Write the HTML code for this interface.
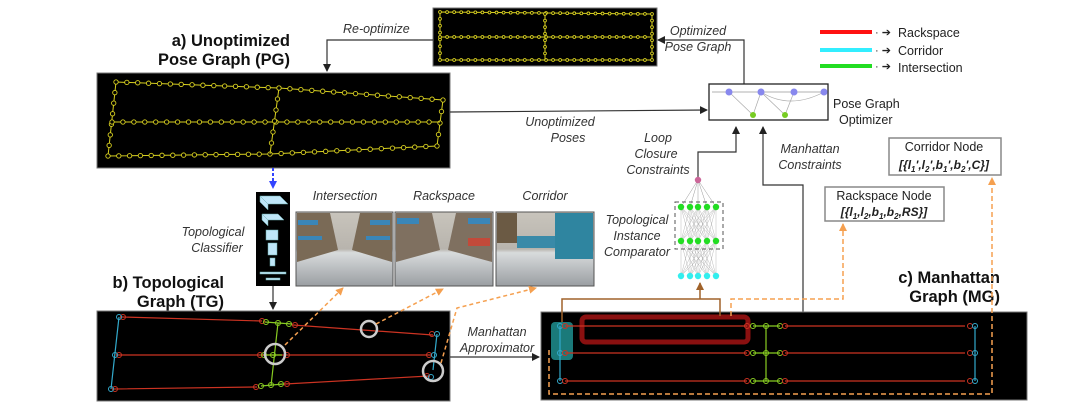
<!DOCTYPE html>
<html><head><meta charset="utf-8">
<style>
html,body{margin:0;padding:0;background:#fff;}
svg{display:block;font-family:"Liberation Sans",sans-serif;}
.it{font-style:italic;font-size:12.5px;fill:#333;}
.t{font-size:12.5px;fill:#222;}
.b{font-weight:bold;font-size:16.5px;fill:#111;}
</style></head><body>
<svg id="s" width="1080" height="413" viewBox="0 0 1080 413" xmlns="http://www.w3.org/2000/svg">
<defs>
<marker id="ak" markerWidth="8" markerHeight="8" refX="7" refY="4" orient="auto" markerUnits="userSpaceOnUse"><path d="M0,0 L8,4 L0,8 z" fill="#222"/></marker>
<marker id="ao" markerWidth="8" markerHeight="8" refX="7" refY="4" orient="auto" markerUnits="userSpaceOnUse"><path d="M0,0 L8,4 L0,8 z" fill="#f5a050"/></marker>
<marker id="ab" markerWidth="8" markerHeight="8" refX="7" refY="4" orient="auto" markerUnits="userSpaceOnUse"><path d="M0,0 L8,4 L0,8 z" fill="#a0622a"/></marker>
<marker id="abl" markerWidth="8" markerHeight="8" refX="7" refY="4" orient="auto" markerUnits="userSpaceOnUse"><path d="M0,0 L8,4 L0,8 z" fill="#3344ff"/></marker>
<linearGradient id="img" x1="0" y1="0" x2="0" y2="1"><stop offset="0" stop-color="#c8c4bc"/><stop offset="0.5" stop-color="#b8b4ad"/><stop offset="0.55" stop-color="#d8dbdc"/><stop offset="1" stop-color="#9a9ea2"/></linearGradient>
</defs>

<text class="b" x="290" y="46" text-anchor="end">a) Unoptimized</text>
<text class="b" x="290" y="65" text-anchor="end">Pose Graph (PG)</text>
<text class="b" x="224" y="288" text-anchor="end">b) Topological</text>
<text class="b" x="224" y="307" text-anchor="end">Graph (TG)</text>
<text class="b" x="1000" y="283" text-anchor="end">c) Manhattan</text>
<text class="b" x="1000" y="302" text-anchor="end">Graph (MG)</text>

<rect x="433" y="8" width="224" height="58" fill="#000" stroke="#777"/>
<g id="pgsmall"></g>
<rect x="97" y="73" width="353" height="95" fill="#000" stroke="#777"/>
<g id="pgbig"></g>

<path d="M433,40 H327 V71" fill="none" stroke="#333" stroke-width="1.2" marker-end="url(#ak)"/>
<text class="it" x="343" y="33">Re-optimize</text>
<path d="M744,84 V40 H658" fill="none" stroke="#333" stroke-width="1.2" marker-end="url(#ak)"/>
<text class="it" x="698" y="35" text-anchor="middle">Optimized</text>
<text class="it" x="698" y="51" text-anchor="middle">Pose Graph</text>
<path d="M450,112 L707,110" fill="none" stroke="#333" stroke-width="1.2" marker-end="url(#ak)"/>
<text class="it" x="560" y="126" text-anchor="middle">Unoptimized</text>
<text class="it" x="568" y="142" text-anchor="middle">Poses</text>

<rect x="709" y="84" width="119" height="36" fill="#fff" stroke="#222" stroke-width="1.3"/>
<line x1="712" y1="92" x2="825" y2="92" stroke="#999" stroke-width="0.7"/>
<g stroke="#aaa" stroke-width="0.7" fill="none"><path d="M729,92 L753,115 L761,92 M761,92 L785,115 L794,92 M761,92 Q790,110 824,92"/></g>
<g fill="#8888ee"><circle cx="729" cy="92" r="3.5"/><circle cx="761" cy="92" r="3.5"/><circle cx="794" cy="92" r="3.5"/><circle cx="824" cy="92" r="3.5"/></g>
<g fill="#77cc22"><circle cx="753" cy="115" r="3"/><circle cx="785" cy="115" r="3"/></g>
<text class="t" x="833" y="108">Pose Graph</text>
<text class="t" x="839" y="124">Optimizer</text>

<line x1="820" y1="32" x2="872" y2="32" stroke="#ff1111" stroke-width="4"/>
<line x1="820" y1="50" x2="872" y2="50" stroke="#33eeff" stroke-width="4"/>
<line x1="820" y1="66" x2="872" y2="66" stroke="#22dd22" stroke-width="4"/>
<g font-size="11" fill="#222"><text x="875" y="36">· ➔</text><text x="875" y="54">· ➔</text><text x="875" y="70">· ➔</text></g>
<text class="t" x="898" y="37">Rackspace</text>
<text class="t" x="898" y="55">Corridor</text>
<text class="t" x="898" y="72">Intersection</text>

<path d="M698,180 V152 H736 V127" fill="none" stroke="#333" stroke-width="1.2" marker-end="url(#ak)"/>
<text class="it" x="658" y="142" text-anchor="middle">Loop</text>
<text class="it" x="656" y="158" text-anchor="middle">Closure</text>
<text class="it" x="658" y="174" text-anchor="middle">Constraints</text>
<path d="M803,312 V185 H763 V127" fill="none" stroke="#333" stroke-width="1.2" marker-end="url(#ak)"/>
<text class="it" x="810" y="153" text-anchor="middle">Manhattan</text>
<text class="it" x="810" y="169" text-anchor="middle">Constraints</text>

<rect x="889" y="138" width="112" height="37" fill="#fff" stroke="#888" stroke-width="1.5"/>
<text class="t" x="944" y="151" text-anchor="middle">Corridor Node</text>
<text x="944" y="169" text-anchor="middle" font-size="12" font-weight="bold" font-style="italic" fill="#222">[{l<tspan font-size="8" dy="3">1</tspan><tspan dy="-3">',l</tspan><tspan font-size="8" dy="3">2</tspan><tspan dy="-3">',b</tspan><tspan font-size="8" dy="3">1</tspan><tspan dy="-3">',b</tspan><tspan font-size="8" dy="3">2</tspan><tspan dy="-3">',C}]</tspan></text>
<rect x="825" y="187" width="119" height="34" fill="#fff" stroke="#888" stroke-width="1.5"/>
<text class="t" x="884" y="200" text-anchor="middle">Rackspace Node</text>
<text x="884" y="216" text-anchor="middle" font-size="12" font-weight="bold" font-style="italic" fill="#222">[{l<tspan font-size="8" dy="3">1</tspan><tspan dy="-3">,l</tspan><tspan font-size="8" dy="3">2</tspan><tspan dy="-3">,b</tspan><tspan font-size="8" dy="3">1</tspan><tspan dy="-3">,b</tspan><tspan font-size="8" dy="3">2</tspan><tspan dy="-3">,RS}]</tspan></text>

<g id="nn"></g>
<rect x="675" y="202" width="48" height="47" fill="none" stroke="#555" stroke-dasharray="4,3"/>
<text class="it" x="637" y="224" text-anchor="middle">Topological</text>
<text class="it" x="637" y="240" text-anchor="middle">Instance</text>
<text class="it" x="637" y="256" text-anchor="middle">Comparator</text>

<rect x="256" y="192" width="34" height="94" fill="#000"/>
<g fill="#bfe6f8" stroke="#6aa" stroke-width="0.5">
<polygon points="260,196 280,196 288,204 268,204"/><polygon points="260,196 268,204 268,210 260,202"/>
<polygon points="262,214 278,214 284,220 268,220"/><polygon points="262,214 268,220 268,226 262,220"/>
<rect x="266" y="230" width="12" height="10"/><rect x="268" y="243" width="9" height="12"/>
<rect x="270" y="258" width="5" height="8"/><rect x="260" y="272" width="26" height="2"/><rect x="266" y="278" width="14" height="2"/>
</g>
<path d="M273,168 V188" stroke="#3344ff" stroke-width="2" stroke-dasharray="3,2" fill="none" marker-end="url(#abl)"/>
<path d="M273,286 V309" stroke="#333" stroke-width="1.2" fill="none" marker-end="url(#ak)"/>
<text class="it" x="213" y="236" text-anchor="middle">Topological</text>
<text class="it" x="217" y="252" text-anchor="middle">Classifier</text>

<g stroke="#555" stroke-width="1">
<rect x="296" y="212" width="97" height="74" fill="url(#img)"/>
<rect x="395" y="212" width="98" height="74" fill="url(#img)"/>
<rect x="496" y="212" width="98" height="74" fill="url(#img)"/>
</g>
<g>
<polygon points="297,213 330,213 338,250 297,262" fill="#7a6a56"/><polygon points="392,213 360,213 352,250 392,262" fill="#7a6a56"/>
<rect x="298" y="220" width="20" height="5" fill="#3a86b8"/><rect x="370" y="220" width="20" height="5" fill="#3a86b8"/>
<rect x="298" y="236" width="24" height="4" fill="#3a86b8"/><rect x="366" y="236" width="24" height="4" fill="#3a86b8"/>
<polygon points="396,213 432,213 440,250 396,262" fill="#7f7060"/><polygon points="492,213 456,213 448,250 492,262" fill="#7f7060"/>
<rect x="397" y="218" width="22" height="6" fill="#3a86b8"/><rect x="468" y="218" width="22" height="6" fill="#3a86b8"/>
<rect x="468" y="238" width="22" height="8" fill="#c24a3a"/>
<rect x="497" y="213" width="20" height="30" fill="#6b5a44"/><rect x="555" y="213" width="38" height="46" fill="#2f85a0"/><rect x="517" y="236" width="38" height="12" fill="#3a8aa8"/>
</g>
<text class="it" x="345" y="200" text-anchor="middle">Intersection</text>
<text class="it" x="444" y="200" text-anchor="middle">Rackspace</text>
<text class="it" x="545" y="200" text-anchor="middle">Corridor</text>

<rect x="97" y="311" width="353" height="90" fill="#000" stroke="#777"/>
<g fill="none" stroke-width="1.2">
<path d="M122,317 L262,321 M293,325 L433,335 M118,355 L432,355 M114,389 L257,387 M285,384 L429,376" stroke="#cc3322"/>
<path d="M119,317 L111,389 M437,334 L433,370" stroke="#33aacc"/>
<path d="M265,322 L292,324 M278,323 L271,386 M262,355 L282,355 M261,386 L283,384" stroke="#88cc22"/>
</g>
<g fill="none" stroke-width="1" stroke="#cc3322">
<circle cx="123" cy="317" r="2.5"/><circle cx="119" cy="355" r="2.5"/><circle cx="115" cy="389" r="2.5"/><circle cx="262" cy="321" r="2.5"/><circle cx="295" cy="325" r="2.5"/><circle cx="260" cy="355" r="2.5"/><circle cx="287" cy="355" r="2.5"/><circle cx="256" cy="387" r="2.5"/><circle cx="287" cy="384" r="2.5"/><circle cx="432" cy="334" r="2.5"/><circle cx="429" cy="355" r="2.5"/><circle cx="427" cy="376" r="2.5"/></g>
<g fill="none" stroke-width="1" stroke="#33aacc"><circle cx="119" cy="317" r="2.5"/><circle cx="115" cy="355" r="2.5"/><circle cx="111" cy="389" r="2.5"/><circle cx="437" cy="334" r="2.5"/><circle cx="434" cy="355" r="2.5"/><circle cx="431" cy="377" r="2.5"/></g>
<g fill="none" stroke-width="1" stroke="#88cc22"><circle cx="266" cy="322" r="2.5"/><circle cx="278" cy="323" r="2.5"/><circle cx="289" cy="324" r="2.5"/><circle cx="264" cy="355" r="2.5"/><circle cx="273" cy="355" r="2.5"/><circle cx="261" cy="386" r="2.5"/><circle cx="271" cy="385" r="2.5"/><circle cx="281" cy="384" r="2.5"/></g>
<g fill="none" stroke="#ccc" stroke-width="2.5"><circle cx="275" cy="354" r="10"/><circle cx="369" cy="329" r="8"/><circle cx="433" cy="371" r="10"/></g>
<g fill="none" stroke="#f5a050" stroke-width="1.5" stroke-dasharray="4,3">
<path d="M285,345 L343,288" marker-end="url(#ao)"/>
<path d="M376,324 L443,289" marker-end="url(#ao)"/>
<path d="M441,363 L457,308 L536,288" marker-end="url(#ao)"/>
</g>

<path d="M450,357 L539,357" stroke="#333" stroke-width="1.2" fill="none" marker-end="url(#ak)"/>
<text class="it" x="497" y="336" text-anchor="middle">Manhattan</text>
<text class="it" x="497" y="352" text-anchor="middle">Approximator</text>

<rect x="541" y="312" width="486" height="88" fill="#000" stroke="#777"/>
<rect x="551" y="322" width="22" height="38" rx="4" fill="#1f8f8f" opacity="0.85"/>
<rect x="582" y="317" width="166" height="25" rx="4" fill="none" stroke="#8a1010" stroke-width="5"/>
<g fill="none" stroke-width="1.2">
<path d="M565,326 L747,326 M785,326 L965,326 M565,353 L747,353 M785,353 L965,353 M565,381 L747,381 M785,381 L965,381" stroke="#cc3322"/>
<path d="M560,326 V381 M975,326 V381" stroke="#33aacc"/>
<path d="M753,326 H780 M753,353 H780 M753,381 H780 M766,326 V381" stroke="#88cc22"/>
</g>
<g id="mgn"></g>
<g fill="none" stroke="#f5a050" stroke-width="1.5" stroke-dasharray="5,3">
<path d="M549,350 V394 H992 V312 V178" marker-end="url(#ao)"/>
<path d="M731,316 V299 H843 V224" marker-end="url(#ao)"/>
</g>
<g fill="none" stroke="#a0622a" stroke-width="1.5">
<path d="M562,322 V299 H720 V316"/>
<path d="M700,299 V283" marker-end="url(#ab)"/>
</g>
</svg>
<script>
var NS="http://www.w3.org/2000/svg";
function el(p,t,a){var e=document.createElementNS(NS,t);for(var k in a)e.setAttribute(k,a[k]);p.appendChild(e);return e;}
function chain(g,pts,n,col,r){
 var d="M"+pts.map(function(p){return p.join(",")}).join(" L");
 el(g,"path",{d:d,fill:"none",stroke:col,"stroke-width":1});
 for(var i=0;i<pts.length-1;i++){var a=pts[i],b=pts[i+1];var L=Math.hypot(b[0]-a[0],b[1]-a[1]);var m=Math.max(1,Math.round(L/n));
  for(var j=0;j<m;j++){var t=j/m;el(g,"circle",{cx:a[0]+(b[0]-a[0])*t,cy:a[1]+(b[1]-a[1])*t,r:r,fill:"#000",stroke:col,"stroke-width":0.9});}}
}
var Y="#d8d020";
var gb=document.getElementById("pgbig");
chain(gb,[[116,82],[279,88],[443,100],[437,146],[270,154],[108,156],[116,82]],11,Y,2.2);
chain(gb,[[112,122],[440,122]],11,Y,2.2);
chain(gb,[[279,88],[270,154]],11,Y,2.2);
var gs=document.getElementById("pgsmall");
chain(gs,[[440,12],[652,14],[652,60],[440,60],[440,12]],7,Y,1.4);
chain(gs,[[440,37],[652,37]],7,Y,1.4);
chain(gs,[[545,14],[545,60]],7,Y,1.4);
var nn=document.getElementById("nn");var xs=[681,690,698,707,716];
xs.forEach(function(x){el(nn,"line",{x1:698,y1:180,x2:x,y2:207,stroke:"#999","stroke-width":0.5});
 xs.forEach(function(x2){el(nn,"line",{x1:x,y1:207,x2:x2,y2:241,stroke:"#aaa","stroke-width":0.4});el(nn,"line",{x1:x,y1:241,x2:x2,y2:276,stroke:"#aaa","stroke-width":0.4});});});
xs.forEach(function(x){el(nn,"circle",{cx:x,cy:207,r:3.2,fill:"#22dd22"});el(nn,"circle",{cx:x,cy:241,r:3.2,fill:"#22dd22"});el(nn,"circle",{cx:x,cy:276,r:3.2,fill:"#33eeee"});});
el(nn,"circle",{cx:698,cy:180,r:3.2,fill:"#cc6699"});
var mg=document.getElementById("mgn");
[326,353,381].forEach(function(y){
 [[560,"#33aacc"],[565,"#cc3322"],[747,"#cc3322"],[753,"#88cc22"],[766,"#88cc22"],[780,"#88cc22"],[785,"#cc3322"],[970,"#cc3322"],[975,"#33aacc"]].forEach(function(p){
  el(mg,"circle",{cx:p[0],cy:y,r:2.5,fill:"none",stroke:p[1],"stroke-width":1});});});
</script>
</body></html>
